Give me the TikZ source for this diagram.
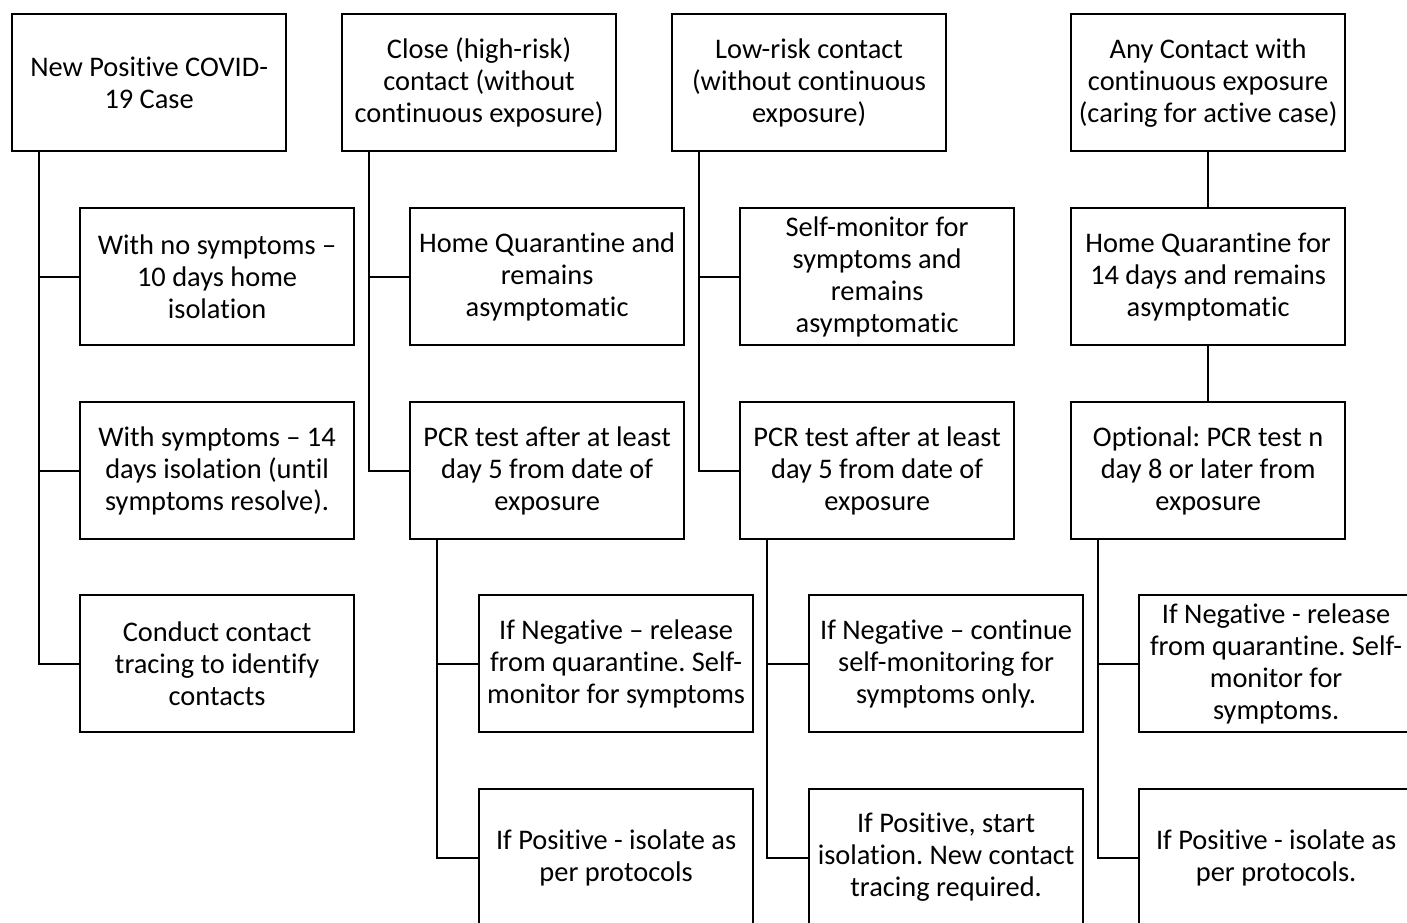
\documentclass[tikz,border=0pt]{standalone}
\usepackage{fontspec}
\setmainfont{Carlito}[Ligatures=NoCommon]
\frenchspacing
\begin{document}
\begin{tikzpicture}[x=1pt,y=-1pt,
  box/.style={draw, line width=2.2pt, minimum width=274pt, minimum height=137pt, inner sep=0pt,
    align=center, anchor=north west, font=\fontsize{28.4}{32}\selectfont},
  conn/.style={line width=2.2pt}]
\useasboundingbox (0,0) rectangle (1407,922);
\clip (0,0) rectangle (1407,922);
\fill[white] (0,0) rectangle (1407,922);
% column 1
\node[box] (a0) at (11,13) {New Positive COVID-\\19 Case};
\node[box] (a1) at (79,207) {With no symptoms --\\10 days home\\isolation};
\node[box] (a2) at (79,401) {With symptoms -- 14\\days isolation (until\\symptoms resolve).};
\node[box] (a3) at (79,594) {Conduct contact\\tracing to identify\\contacts};
% column 2
\node[box] (b0) at (341,13) {Close (high-risk)\\contact (without\\continuous exposure)};
\node[box] (b1) at (409,207) {Home Quarantine and\\remains\\asymptomatic};
\node[box] (b2) at (409,401) {PCR test after at least\\day 5 from date of\\exposure};
\node[box] (b3) at (478,594) {If Negative -- release\\from quarantine. Self-\\monitor for symptoms};
\node[box] (b4) at (478,788) {If Positive - isolate as\\per protocols};
% column 3
\node[box] (c0) at (671,13) {Low-risk contact\\(without continuous\\exposure)};
\node[box] (c1) at (739,207) {Self-monitor for\\symptoms and\\remains\\asymptomatic};
\node[box] (c2) at (739,401) {PCR test after at least\\day 5 from date of\\exposure};
\node[box] (c3) at (808,594) {If Negative -- continue\\self-monitoring for\\symptoms only.};
\node[box] (c4) at (808,788) {If Positive, start\\isolation. New contact\\tracing required.};
% column 4
\node[box] (d0) at (1070,13) {Any Contact with\\continuous exposure\\(caring for active case)};
\node[box] (d1) at (1070,207) {Home Quarantine for\\14 days and remains\\asymptomatic};
\node[box] (d2) at (1070,401) {Optional: PCR test n\\day 8 or later from\\exposure};
\node[box] (d3) at (1138,594) {If Negative - release\\from quarantine. Self-\\monitor for\\symptoms.};
\node[box] (d4) at (1138,788) {If Positive - isolate as\\per protocols.};
% connectors
\foreach \p/\c in {a0/a1,a0/a2,a0/a3,b0/b1,b0/b2,b2/b3,b2/b4,c0/c1,c0/c2,c2/c3,c2/c4,d2/d3,d2/d4}
  \draw[conn] ([xshift=28pt]\p.south west) |- (\c.west);
\draw[conn] (d0.south) -- (d1.north);
\draw[conn] (d1.south) -- (d2.north);
\end{tikzpicture}
\end{document}
